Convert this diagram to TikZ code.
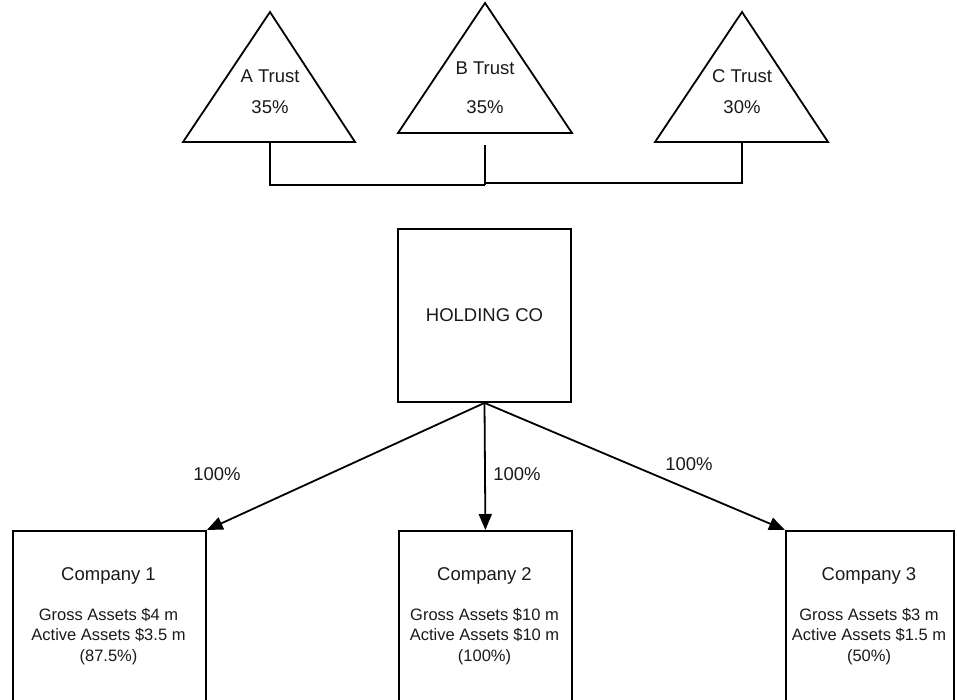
\documentclass[tikz,border=0pt]{standalone}
\usepackage{fontspec}
\setmainfont{Liberation Sans}
\usetikzlibrary{arrows.meta}
\definecolor{ink}{HTML}{1A1A1A}
\tikzset{
  shp/.style={draw=black, line width=1.8pt, line join=miter},
  lbl/.style={text=ink, font=\fontsize{18.5}{21}\selectfont, inner sep=0pt},
  det/.style={text=ink, font=\fontsize{16.5}{20.5}\selectfont, inner sep=0pt, align=center},
  boxnode/.style={shp, rectangle, inner sep=0pt},
  conn/.style={draw=black, line width=1.8pt},
  arr/.style={conn, -{Triangle[length=16pt,width=13pt]}},
}
\begin{document}
\begin{tikzpicture}[x=1pt,y=-1pt]
\useasboundingbox (0,0) rectangle (957,699);
\fill[white] (0,0) rectangle (957,699);
% Trusts
\draw[shp] (270,12) -- (355,142) -- (183,142) -- cycle;
\draw[shp] (485,3) -- (572,133) -- (398,133) -- cycle;
\draw[shp] (742,12) -- (828,142) -- (655,142) -- cycle;
\node[lbl] (at) at (270,76) {A Trust};
\node[lbl] (ap) at (270,107) {35\%};
\node[lbl] (bt) at (485,68) {B Trust};
\node[lbl] (bp) at (485,107) {35\%};
\node[lbl] (ct) at (742,76) {C Trust};
\node[lbl] (cp) at (742,107) {30\%};
\coordinate (abase) at (270,142);
\coordinate (bbase) at (485,145);
\coordinate (cbase) at (742,142);
\coordinate (joinA) at (485,185);
\coordinate (joinC) at (485,183);
\draw[conn] (abase) |- (joinA);
\draw[conn] (cbase) |- (joinC);
\draw[conn] (bbase) -- (joinA);
% Holding
\node[boxnode, minimum width=173pt, minimum height=173pt] (hold) at (484.5,315.5) {};
\node[lbl] (holdt) at (hold.center) {HOLDING CO};
% Companies
\node[boxnode, minimum width=193pt, minimum height=300pt, anchor=north west] (c1) at (12,530) {};
\node[boxnode, minimum width=173pt, minimum height=300pt, anchor=north west] (c2) at (398,530) {};
\node[boxnode, minimum width=168pt, minimum height=300pt, anchor=north west] (c3) at (785,530) {};
\node[lbl] (c1t) at (108.5,576) {Company 1};
\node[det, anchor=north] (c1d) at (108.5,608) {Gross Assets \$4 m\\Active Assets \$3.5 m\\(87.5\%)};
\node[lbl] (c2t) at (484.5,576) {Company 2};
\node[det, anchor=north] (c2d) at (484.5,608) {Gross Assets \$10 m\\Active Assets \$10 m\\(100\%)};
\node[lbl] (c3t) at (869,576) {Company 3};
\node[det, anchor=north] (c3d) at (869,608) {Gross Assets \$3 m\\Active Assets \$1.5 m\\(50\%)};
% Arrows
\draw[arr] (hold.south) -- (c1.north east);
\draw[arr] (hold.south) -- (c2.north);
\draw[arr] (hold.south) -- (c3.north west);
\node[lbl] (p1) at (217,474) {100\%};
\node[lbl] (p2) at (517,474) {100\%};
\node[lbl] (p3) at (689,464) {100\%};
\end{tikzpicture}
\end{document}
